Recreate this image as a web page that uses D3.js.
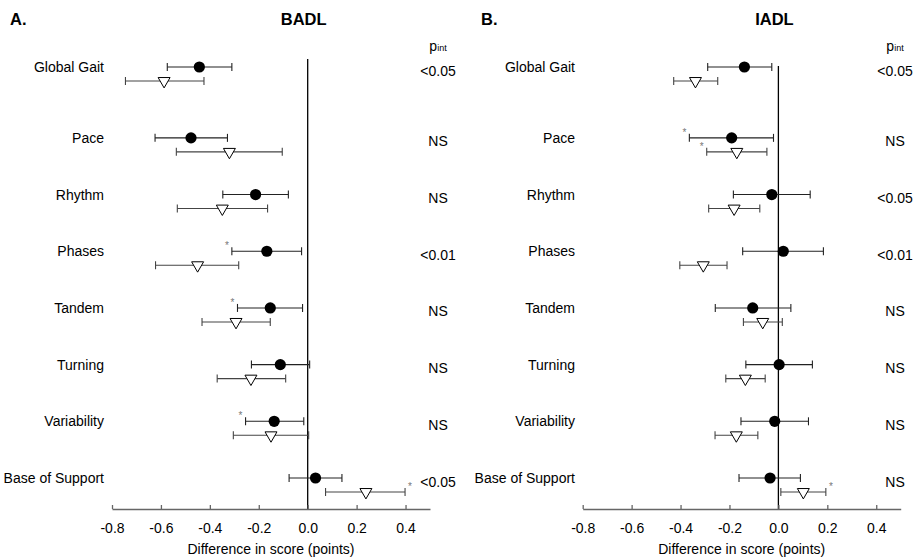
<!DOCTYPE html>
<html>
<head>
<meta charset="utf-8">
<script src="https://cdn.jsdelivr.net/npm/d3@7"></script>
<style>
  body { margin: 0; background: #fff; }
  svg { display: block; font-family: "Liberation Sans", Arial, sans-serif; }
</style>
</head>
<body>
<svg id="chart" width="917" height="559"></svg>
<script>
// ---- data ----
const categories = ["Global Gait", "Pace", "Rhythm", "Phases", "Tandem", "Turning", "Variability", "Base of Support"];
const tickValues = [-0.8, -0.6, -0.4, -0.2, 0.0, 0.2, 0.4];
const tickLabels = ["-0.8", "-0.6", "-0.4", "-0.2", "0.0", "0.2", "0.4"];

// BADL
const badlCircle   = [-0.443, -0.477, -0.213, -0.167, -0.153, -0.112, -0.137, 0.032];
const badlCircleLo = [-0.574, -0.624, -0.347, -0.310, -0.287, -0.230, -0.254, -0.076];
const badlCircleHi = [-0.310, -0.328, -0.079, -0.025, -0.021, 0.008, -0.016, 0.140];
const badlTri      = [-0.587, -0.320, -0.349, -0.450, -0.293, -0.232, -0.150, 0.238];
const badlTriLo    = [-0.745, -0.537, -0.533, -0.622, -0.432, -0.370, -0.304, 0.073];
const badlTriHi    = [-0.424, -0.104, -0.164, -0.282, -0.153, -0.090, 0.004, 0.398];
const badlP        = ["<0.05", "NS", "NS", "<0.01", "NS", "NS", "NS", "<0.05"];
const badlStars    = [["Phases", "circle", "low"], ["Tandem", "circle", "low"], ["Variability", "circle", "low"], ["Base of Support", "tri", "high"]];

// IADL
const iadlCircle   = [-0.139, -0.191, -0.027, 0.020, -0.105, 0.003, -0.015, -0.034];
const iadlCircleLo = [-0.289, -0.364, -0.184, -0.146, -0.258, -0.133, -0.153, -0.161];
const iadlCircleHi = [-0.027, -0.020, 0.130, 0.184, 0.051, 0.139, 0.123, 0.090];
const iadlTri      = [-0.339, -0.170, -0.181, -0.307, -0.064, -0.135, -0.172, 0.102];
const iadlTriLo    = [-0.428, -0.293, -0.285, -0.403, -0.143, -0.215, -0.259, 0.010];
const iadlTriHi    = [-0.248, -0.047, -0.076, -0.210, 0.016, -0.054, -0.084, 0.194];
const iadlP        = ["<0.05", "NS", "<0.05", "<0.01", "NS", "NS", "NS", "NS"];
const iadlStars    = [["Pace", "circle", "low"], ["Pace", "tri", "low"], ["Base of Support", "tri", "high"]];

// ---- drawing ----
const svg = d3.select("#chart");
const rowPos = categories.map((c, i) => i === 0 ? 0 : i + 0.25);
const y = d3.scaleLinear().domain([0, 7.25]).range([67, 478]);
const triOffset = 14;
const axisY = 509;

function panel(opt) {
  const g = svg.append("g");
  const x = d3.scaleLinear().domain([-0.8, 0.5]).range([opt.x0, opt.x1]);

  // titles
  g.append("text").attr("x", opt.letterX).attr("y", 25).attr("font-size", 16.5)
    .attr("font-weight", "bold").text(opt.letter);
  g.append("text").attr("x", x(0) - 4).attr("y", 25).attr("font-size", 16.5)
    .attr("font-weight", "bold").attr("text-anchor", "middle").text(opt.title);

  // zero line
  g.append("line").attr("x1", x(0)).attr("x2", x(0)).attr("y1", opt.zeroTop).attr("y2", axisY)
    .attr("stroke", "#000").attr("stroke-width", 1.3);

  // axis
  const axis = d3.axisBottom(x).tickValues(tickValues)
    .tickFormat((d, i) => tickLabels[i]).tickSize(-4).tickSizeOuter(0).tickPadding(14);
  const ag = g.append("g").attr("transform", `translate(0,${axisY})`).call(axis);
  ag.select(".domain").attr("stroke", "#666").attr("stroke-width", 1.5);
  ag.selectAll(".tick line").attr("stroke", "#666").attr("stroke-width", 1.3);
  ag.selectAll(".tick text").attr("font-size", 14).attr("fill", "#000")
    .attr("font-family", "'Liberation Sans', Arial, sans-serif");
  g.append("text").attr("x", x(-0.15)).attr("y", axisY + 45).attr("font-size", 14)
    .attr("text-anchor", "middle").text("Difference in score (points)");

  // p_int header
  const ph = g.append("text").attr("x", opt.pX).attr("y", 51).attr("text-anchor", "middle").attr("font-size", 14);
  ph.append("tspan").text("p");
  ph.append("tspan").attr("font-size", 9).text("int");

  const rows = categories.map((c, i) => ({
    cat: c, yy: y(rowPos[i]),
    c: opt.circle[i], cLo: opt.circleLo[i], cHi: opt.circleHi[i],
    t: opt.tri[i], tLo: opt.triLo[i], tHi: opt.triHi[i], p: opt.p[i]
  }));

  // labels
  g.selectAll(".cat").data(rows).join("text").attr("class", "cat")
    .attr("x", opt.labelX).attr("y", d => d.yy + 5).attr("text-anchor", "end")
    .attr("font-size", 14).text(d => d.cat);

  // p values
  g.selectAll(".pv").data(rows).join("text").attr("class", "pv")
    .attr("x", opt.pX).attr("y", d => d.yy + 8.5).attr("text-anchor", "middle")
    .attr("font-size", 14).text(d => d.p);

  function errBar(cls, lo, hi, yOff, color) {
    const eg = g.selectAll("." + cls).data(rows).join("g").attr("class", cls);
    eg.append("line").attr("x1", d => x(d[lo])).attr("x2", d => x(d[hi]))
      .attr("y1", d => d.yy + yOff).attr("y2", d => d.yy + yOff)
      .attr("stroke", color).attr("stroke-width", 1.1);
    [lo, hi].forEach(k => {
      eg.append("line").attr("x1", d => x(d[k])).attr("x2", d => x(d[k]))
        .attr("y1", d => d.yy + yOff - 4).attr("y2", d => d.yy + yOff + 4)
        .attr("stroke", color).attr("stroke-width", 1.1);
    });
  }
  errBar("ebc", "cLo", "cHi", 0, "#222");
  errBar("ebt", "tLo", "tHi", triOffset, "#444");

  // markers
  g.selectAll(".mc").data(rows).join("circle").attr("class", "mc")
    .attr("cx", d => x(d.c)).attr("cy", d => d.yy).attr("r", 5.6).attr("fill", "#000");
  const tri = d3.symbol().type(d3.symbolTriangle).size(62);
  g.selectAll(".mt").data(rows).join("path").attr("class", "mt")
    .attr("d", tri())
    .attr("transform", d => `translate(${x(d.t)},${d.yy + triOffset}) rotate(180)`)
    .attr("fill", "#fff").attr("stroke", "#000").attr("stroke-width", 1);

  // significance stars
  opt.stars.forEach(([cat, series, side]) => {
    const r = rows.find(d => d.cat === cat);
    const yy = r.yy + (series === "tri" ? triOffset : 0);
    const xv = series === "tri" ? (side === "low" ? r.tLo : r.tHi) : (side === "low" ? r.cLo : r.cHi);
    const sx = x(xv) + (side === "low" ? -5 : 5);
    g.append("text").attr("x", sx).attr("y", yy - 8 + 6).attr("text-anchor", "middle")
      .attr("font-size", 10).attr("fill", "#777").text("*");
  });
}

panel({
  x0: 112, x1: 430, letter: "A.", letterX: 10, title: "BADL", zeroTop: 59,
  labelX: 104, pX: 438,
  circle: badlCircle, circleLo: badlCircleLo, circleHi: badlCircleHi,
  tri: badlTri, triLo: badlTriLo, triHi: badlTriHi, p: badlP, stars: badlStars
});
panel({
  x0: 582.7, x1: 900.7, letter: "B.", letterX: 481, title: "IADL", zeroTop: 66,
  labelX: 575, pX: 895,
  circle: iadlCircle, circleLo: iadlCircleLo, circleHi: iadlCircleHi,
  tri: iadlTri, triLo: iadlTriLo, triHi: iadlTriHi, p: iadlP, stars: iadlStars
});
</script>
</body>
</html>
